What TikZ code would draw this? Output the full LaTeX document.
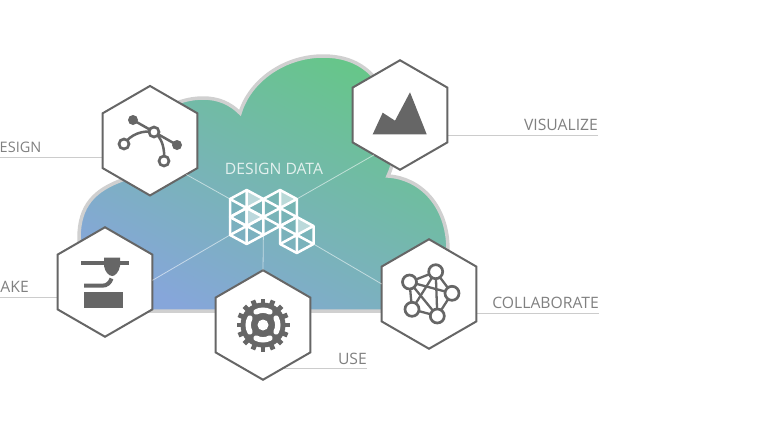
\documentclass[tikz,border=0pt]{standalone}
\usepackage{fontspec}
\setmainfont{Open Sans}
\usetikzlibrary{shapes.geometric,backgrounds}
\definecolor{icongray}{HTML}{666666}
\definecolor{textgray}{HTML}{808080}
\definecolor{leadgray}{HTML}{CCCCCC}
\definecolor{cloudedge}{HTML}{D0D0D0}
\definecolor{cloudtop}{HTML}{66C689}
\definecolor{cloudmid}{HTML}{72B6A9}
\definecolor{cloudlow}{HTML}{86A6DA}
\begin{document}
\begin{tikzpicture}[
  x=1pt,y=-1pt,
  hexa/.style={draw=icongray,fill=white,line width=2pt,regular polygon,regular polygon sides=6,shape border rotate=30,minimum size=109.5pt,inner sep=0pt,outer sep=0pt},
  lbl/.style={text=textgray,font=\fontsize{15.7}{18}\selectfont,inner sep=0pt},
  leader/.style={draw=leadgray,line width=.9pt},
  spoke/.style={draw=white,opacity=.55,line width=.8pt},
  ring/.style={draw=icongray,fill=white,line width=2.7pt},
  ico/.style={fill=icongray,draw=none},
  mesh/.style={draw=white,line width=2.5pt,line join=round},
  pale/.style={fill=white,opacity=.5,draw=none},
]
\useasboundingbox (0,0) rectangle (770,431);

\node[hexa] (hexdesign) at (150,140.7) {};
\node[hexa] (hexvis) at (400,115) {};
\node[hexa] (hexmake) at (105,282) {};
\node[hexa] (hexuse) at (263,325) {};
\node[hexa] (hexcollab) at (429,294) {};

\foreach \i/\m in {0/1,0/3,0/5,1/0,1/2,1/4,1/6,2/1,2/3,2/5,3/0,3/2,3/4,3/6,4/1,4/3,4/5,4/7,5/4,5/6}{
  \coordinate (v\i\m) at ({230+16.7*\i},{190+9*\m});
}

\coordinate (enddesign) at (0,157);
\coordinate (endmake) at (0,297);
\coordinate (endvis) at (598,135);
\coordinate (enduse) at (367,368);
\coordinate (endcollab) at (599,313);

\begin{pgfonlayer}{background}
\path[draw=cloudedge,line width=3.5pt,top color=cloudtop,middle color=cloudmid,bottom color=cloudlow,shading angle=-28]
  (115,311) .. controls (92,311) and (79,270) .. (79,238)
  .. controls (79,205) and (95,190) .. (122,180)
  .. controls (125,130) and (165,98) .. (203,98)
  .. controls (218,98) and (230,103) .. (240,113)
  .. controls (250,80) and (285,56) .. (323,56)
  .. controls (345,56) and (362,63) .. (375,78)
  .. controls (400,110) and (400,150) .. (388,176)
  .. controls (420,178) and (448,205) .. (448,250)
  .. controls (448,280) and (435,311) .. (400,311) -- cycle;
\foreach \e/\h in {enddesign/hexdesign,endmake/hexmake,endvis/hexvis,enduse/hexuse,endcollab/hexcollab}{
  \draw[leader] (\e) -- (\e -| \h);
}
\end{pgfonlayer}

\draw[spoke] (v01) -- (hexdesign.-43);
\draw[spoke] (v05) -- (hexmake.2);
\draw[spoke] (v25) -- (hexuse.90);
\draw[spoke] (v41) -- (hexvis.-123);
\draw[spoke] (v56) -- (hexcollab.168.5);

\fill[pale] (v10) -- (v21) -- (v12) -- cycle;
\fill[pale] (v12) -- (v23) -- (v14) -- cycle;
\fill[pale] (v30) -- (v41) -- (v32) -- cycle;
\fill[pale] (v43) -- (v54) -- (v45) -- cycle;
\foreach \a/\b/\c/\d/\e/\f in {10/21/23/14/03/01,12/23/25/16/05/03,30/41/43/34/23/21,43/54/56/47/36/34}{
  \draw[mesh] (v\a) -- (v\b) -- (v\c) -- (v\d) -- (v\e) -- (v\f) -- cycle;
  \draw[mesh] (v\a) -- (v\d) (v\b) -- (v\e) (v\c) -- (v\f);
}
\draw[mesh] (v25) -- (v34);

\node[lbl,text=white,opacity=.8,anchor=base] (labdata) at (274,174) {DESIGN DATA};
\node[lbl,font=\fontsize{14.5}{18}\selectfont,anchor=base east] (labdesign) at (41.5,152) {ESIGN};
\node[lbl,anchor=base east] (labmake) at (29,292) {AKE};
\node[lbl,anchor=base east] (labvis) at (598,130) {VISUALIZE};
\node[lbl,anchor=base east] (labuse) at (367,364) {USE};
\node[lbl,anchor=base east] (labcollab) at (599,308) {COLLABORATE};

\draw[icongray,line width=2.5pt] (133,120) -- (177,145);
\draw[icongray,line width=2.5pt] (124,144) .. controls (131,134) and (143,130) .. (154,132) .. controls (162,138) and (165,148) .. (164,161);
\fill[ico] (133,120) circle (5) (177,145) circle (5);
\foreach \x/\y in {124/144,154/132,164/161}{
  \draw[ring] (\x,\y) circle (5);
}

\fill[ico] (372.7,134.3) -- (382.7,112.7) -- (395,120.7) -- (410,92.3) -- (426.7,134.3) -- cycle;

\fill[ico] (81,260.7) rectangle (129.3,265);
\fill[ico] (104,257.7) -- (120,257.7) -- (120,266) .. controls (119,272) and (115,276) .. (112.3,276) .. controls (109,276) and (105,272) .. (104,266) -- cycle;
\draw[icongray,line width=4pt] (84,285.7) -- (102,285.7) .. controls (107,285.7) and (110,283) .. (111.5,278.5);
\fill[ico] (84,291.7) rectangle (123.3,308.3);

\begin{scope}[shift={(hexuse)}]
\foreach \a in {0,22.5,...,337.5}{
  \fill[ico,rotate=\a] (-2.4,-26.5) rectangle (2.4,-20);
}
\fill[ico] (0,0) circle (22.5);
\foreach \a in {0,90,180,270}{
  \draw[white,line width=5.4pt,line cap=round] (\a-28:14.8) arc[start angle=\a-28,end angle=\a+28,radius=14.8];
}
\fill[white] (0,0) circle (5.5);
\end{scope}

\coordinate (nodea) at (409.5,282);
\coordinate (nodeb) at (435.7,271.7);
\coordinate (nodec) at (452,293.3);
\coordinate (noded) at (437.3,316);
\coordinate (nodee) at (412,309.3);
\foreach \a/\b in {a/b,b/c,c/d,d/e,e/a,b/d,a/d,b/e,a/c}{
  \draw[icongray,line width=2.3pt] (node\a) -- (node\b);
}
\foreach \a in {a,b,c,d,e}{
  \draw[ring] (node\a) circle (7);
}
\end{tikzpicture}
\end{document}
